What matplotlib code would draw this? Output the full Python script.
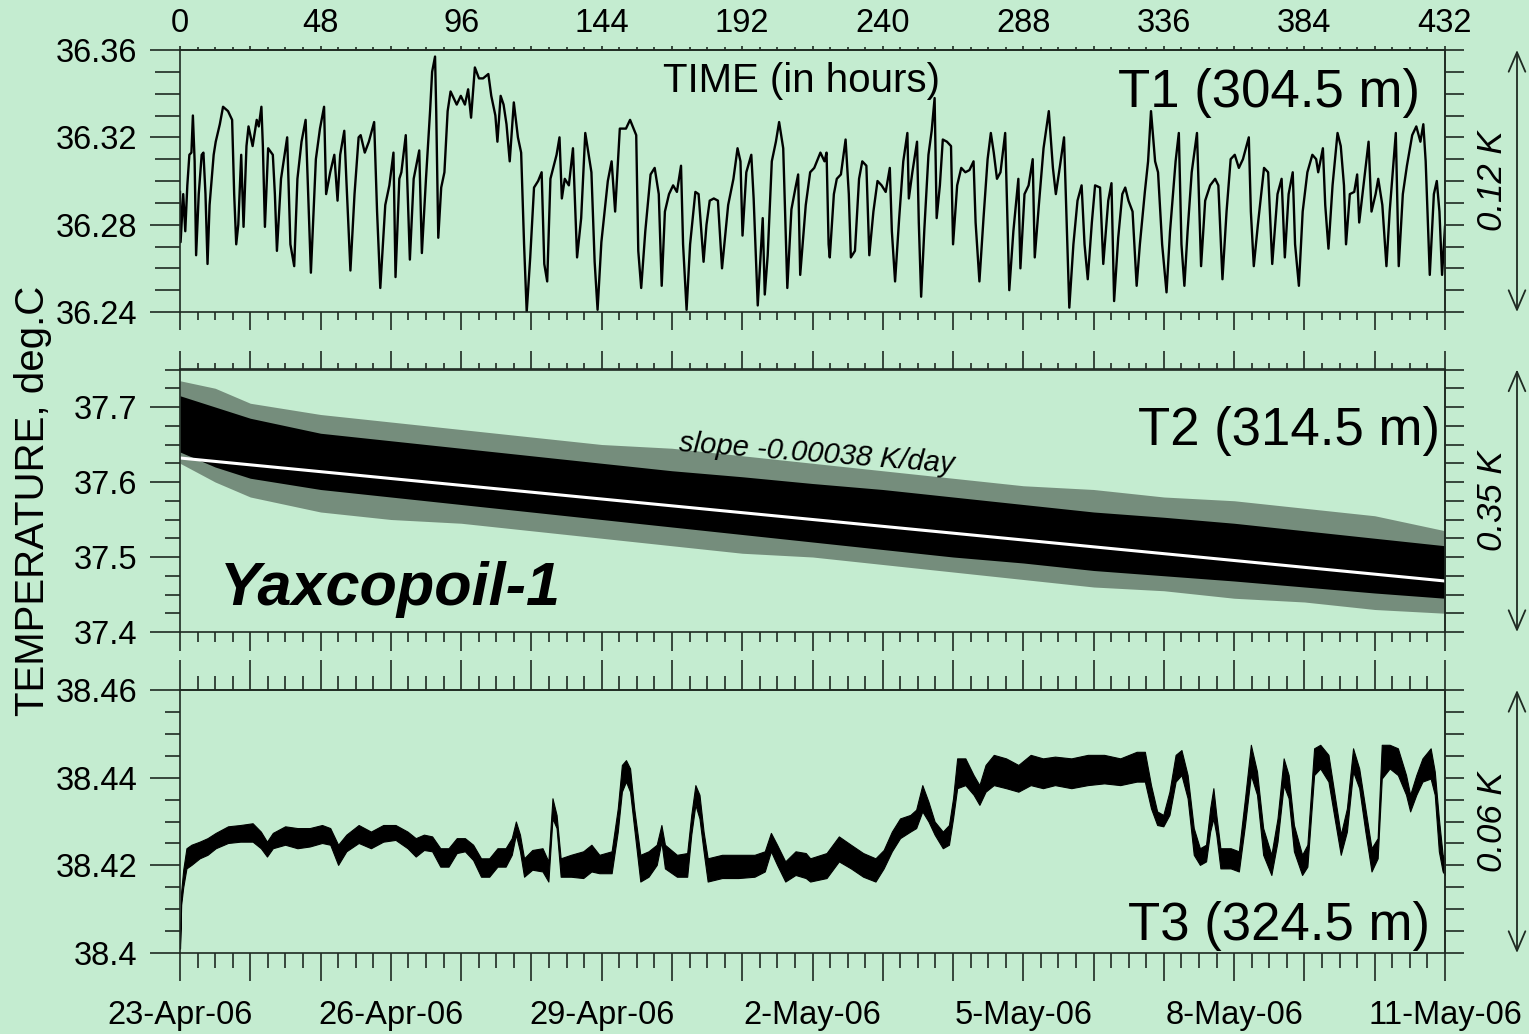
import matplotlib
matplotlib.use('Agg')
import matplotlib.pyplot as plt
from matplotlib.ticker import MultipleLocator, FuncFormatter, NullFormatter

plt.rcParams['font.family'] = ['Liberation Sans', 'DejaVu Sans']

BG = '#c4ecd0'
INK = '#1f2a22'

# ---------------- data ----------------
# T1 (304.5 m): hours since 23-Apr-06 00:00 and temperature, deg.C
t1_hours = [
    0.0, 0.2, 1.1, 1.8, 2.5, 3.2, 3.9, 4.4, 5.0, 5.5,
    6.4, 7.4, 8.0, 8.7, 9.4, 10.1, 11.5, 12.2, 13.6, 14.7,
    16.4, 17.8, 18.5, 19.2, 19.9, 20.9, 21.7, 22.7, 23.4, 24.8,
    26.2, 26.9, 27.8, 28.3, 29.0, 30.1, 31.7, 32.4, 33.1, 34.5,
    36.6, 37.7, 39.0, 40.1, 41.5, 42.9, 43.6, 44.7, 46.4, 47.8,
    49.2, 49.9, 51.3, 52.7, 53.8, 54.7, 56.1, 56.8, 58.2, 59.6,
    61.0, 61.7, 63.1, 64.5, 66.3, 67.3, 68.4, 70.1, 71.5, 72.9,
    73.6, 74.9, 75.6, 77.1, 78.5, 79.8, 81.7, 82.6, 84.0, 85.4,
    86.1, 87.1, 87.5, 88.2, 89.2, 90.3, 91.4, 92.4, 94.5, 95.9,
    97.3, 98.4, 99.4, 100.7, 102.1, 103.5, 105.3, 106.3, 107.7, 108.4,
    109.5, 110.5, 111.5, 112.6, 114.0, 115.4, 116.5, 117.5, 118.4, 119.6,
    120.9, 122.3, 123.5, 124.4, 125.4, 126.5, 128.6, 129.6, 130.4, 131.4,
    132.8, 134.2, 135.6, 137.0, 138.4, 140.5, 141.6, 142.6, 143.9, 146.1,
    147.4, 148.6, 150.2, 152.3, 153.7, 155.8, 156.5, 157.5, 158.9, 160.7,
    162.1, 163.5, 164.5, 165.6, 167.0, 168.4, 169.7, 171.1, 171.8, 173.0,
    174.2, 176.0, 177.1, 178.8, 179.8, 180.9, 182.3, 183.7, 185.1, 187.2,
    189.0, 190.4, 191.4, 192.1, 193.4, 195.1, 195.9, 197.3, 199.0, 199.7,
    200.7, 202.1, 203.5, 204.6, 206.0, 207.4, 208.8, 210.2, 211.1, 211.8,
    213.7,
    215.2, 216.6, 218.7, 220.1, 220.8, 221.5, 221.9, 223.3, 224.3, 225.7,
    227.3, 228.4, 229.1, 230.5, 231.9, 233.0, 234.4, 235.4, 236.8, 238.2,
    239.6, 241.0, 242.4, 243.1, 244.2, 245.6, 247.0, 248.4, 248.9, 250.1,
    251.7, 252.3, 253.1, 254.2, 255.6, 256.7, 257.7, 258.4, 259.5, 260.5,
    261.9, 263.3, 264.0, 265.4, 266.8, 268.2, 269.6, 271.0, 271.7, 273.0,
    274.4, 275.8, 276.9, 277.9, 279.0, 280.2, 281.8, 282.5, 283.2, 284.6,
    286.3, 287.0, 288.4, 289.8, 291.2, 291.9, 293.3, 294.9, 296.7, 298.1,
    299.1, 300.2, 301.9, 302.7, 303.7, 305.1, 306.5, 307.9, 308.9, 310.0,
    311.4, 312.5, 314.2, 315.3, 317.0, 318.1, 319.0, 320.4, 321.8, 322.8,
    323.9, 325.3, 326.7, 327.8, 329.5, 330.6, 331.6, 333.0, 334.0, 335.4,
    336.9, 338.1, 340.0, 341.1, 342.0, 343.0, 344.1, 345.5, 347.3, 348.7,
    350.1, 351.8, 353.5, 354.6, 356.0, 357.4, 358.8, 360.2, 361.6, 363.0,
    365.0, 365.7, 366.7, 368.1, 370.2, 371.6, 373.0, 374.8, 376.2, 377.3,
    378.6, 380.0, 380.8, 382.1, 383.4, 385.0, 386.7, 388.0, 388.7, 390.3,
    391.1, 392.2, 393.6, 395.3, 396.4, 397.5, 398.2, 399.5, 401.0, 402.0,
    402.7, 404.1, 405.9, 406.9, 408.3, 409.2, 410.6, 412.0, 413.1, 415.2,
    416.2, 417.6, 419.0, 420.8, 422.2, 423.6, 424.6, 425.4, 426.8, 428.2,
    429.2, 430.1, 431.0, 432.0,
]
t1_temp = [
    36.295, 36.272, 36.294, 36.277, 36.298, 36.312, 36.313, 36.330, 36.309, 36.266,
    36.294, 36.312, 36.313, 36.294, 36.262, 36.289, 36.312, 36.318, 36.326, 36.334,
    36.332, 36.328, 36.294, 36.271, 36.280, 36.312, 36.279, 36.316, 36.325, 36.316,
    36.328, 36.325, 36.334, 36.316, 36.279, 36.315, 36.312, 36.294, 36.268, 36.301,
    36.320, 36.271, 36.261, 36.301, 36.318, 36.328, 36.301, 36.258, 36.310, 36.324,
    36.334, 36.294, 36.304, 36.312, 36.291, 36.312, 36.323, 36.301, 36.259, 36.294,
    36.320, 36.321, 36.313, 36.318, 36.327, 36.286, 36.251, 36.289, 36.298, 36.313,
    36.256, 36.301, 36.304, 36.321, 36.264, 36.301, 36.314, 36.267, 36.301, 36.332,
    36.350, 36.357, 36.332, 36.274, 36.297, 36.304, 36.332, 36.341, 36.335, 36.339,
    36.335, 36.342, 36.329, 36.352, 36.347, 36.347, 36.349, 36.339, 36.330, 36.318,
    36.339, 36.335, 36.326, 36.309, 36.336, 36.320, 36.313, 36.271, 36.240, 36.265,
    36.297, 36.300, 36.304, 36.262, 36.254, 36.301, 36.312, 36.320, 36.292, 36.301,
    36.298, 36.315, 36.265, 36.283, 36.322, 36.304, 36.263, 36.241, 36.272, 36.300,
    36.309, 36.286, 36.324, 36.324, 36.328, 36.321, 36.268, 36.251, 36.277, 36.303,
    36.306, 36.294, 36.252, 36.286, 36.294, 36.298, 36.295, 36.307, 36.271, 36.241,
    36.271, 36.295, 36.294, 36.263, 36.280, 36.291, 36.292, 36.291, 36.260, 36.289,
    36.301, 36.315, 36.309, 36.275, 36.304, 36.312, 36.292, 36.243, 36.283, 36.248,
    36.266, 36.309, 36.318, 36.327, 36.315, 36.251, 36.287, 36.297, 36.303, 36.257,
    36.289,
    36.304, 36.306, 36.313, 36.309, 36.313, 36.271, 36.265, 36.294, 36.301, 36.303,
    36.319, 36.294, 36.265, 36.268, 36.301, 36.309, 36.307, 36.266, 36.286, 36.300,
    36.298, 36.295, 36.306, 36.277, 36.254, 36.283, 36.309, 36.322, 36.292, 36.304,
    36.318, 36.281, 36.247, 36.278, 36.312, 36.323, 36.338, 36.283, 36.298, 36.319,
    36.318, 36.316, 36.271, 36.298, 36.306, 36.304, 36.305, 36.309, 36.281, 36.254,
    36.283, 36.310, 36.322, 36.313, 36.301, 36.304, 36.322, 36.286, 36.250, 36.277,
    36.301, 36.260, 36.294, 36.298, 36.310, 36.265, 36.289, 36.315, 36.332, 36.306,
    36.294, 36.304, 36.320, 36.286, 36.242, 36.271, 36.291, 36.298, 36.271, 36.255,
    36.281, 36.298, 36.297, 36.262, 36.291, 36.299, 36.245, 36.274, 36.294, 36.297,
    36.291, 36.286, 36.252, 36.271, 36.295, 36.309, 36.332, 36.309, 36.304, 36.271,
    36.249, 36.277, 36.309, 36.322, 36.271, 36.252, 36.277, 36.304, 36.322, 36.261,
    36.291, 36.298, 36.301, 36.298, 36.255, 36.286, 36.310, 36.312, 36.306, 36.310,
    36.320, 36.286, 36.261, 36.280, 36.306, 36.304, 36.262, 36.294, 36.301, 36.265,
    36.294, 36.304, 36.271, 36.252, 36.286, 36.304, 36.312, 36.310, 36.304, 36.315,
    36.289, 36.269, 36.298, 36.322, 36.316, 36.298, 36.271, 36.294, 36.295, 36.303,
    36.281, 36.297, 36.318, 36.286, 36.294, 36.301, 36.289, 36.261, 36.286, 36.322,
    36.261, 36.294, 36.307, 36.321, 36.325, 36.318, 36.326, 36.309, 36.257, 36.294,
    36.300, 36.286, 36.257, 36.279,
]

# T2 (314.5 m): noisy band, dense core and outer spikes envelope
t2_hours = [0, 12, 24, 48, 72, 96, 120, 144, 168, 192, 216, 240, 264, 288, 312, 336, 360, 384, 408, 432]
t2_core_hi = [37.715, 37.700, 37.685, 37.665, 37.655, 37.645, 37.635, 37.625, 37.615, 37.607,
              37.598, 37.590, 37.580, 37.570, 37.560, 37.553, 37.545, 37.535, 37.525, 37.515]
t2_core_lo = [37.640, 37.620, 37.605, 37.590, 37.580, 37.570, 37.560, 37.550, 37.540, 37.530,
              37.520, 37.510, 37.500, 37.492, 37.482, 37.475, 37.468, 37.460, 37.452, 37.445]
t2_outer_hi = [37.735, 37.725, 37.705, 37.690, 37.680, 37.670, 37.660, 37.650, 37.645, 37.635,
               37.625, 37.615, 37.605, 37.595, 37.590, 37.580, 37.575, 37.565, 37.555, 37.535]
t2_outer_lo = [37.625, 37.600, 37.580, 37.560, 37.550, 37.545, 37.535, 37.525, 37.515, 37.505,
               37.500, 37.490, 37.480, 37.470, 37.460, 37.455, 37.445, 37.440, 37.430, 37.425]
trend_hours = [0, 432]
trend_temp = [37.632, 37.468]

# T3 (324.5 m): lower and upper edge of the noisy trace
t3_hours = [
    0.0, 0.4, 1.1, 2.2, 3.9, 6.7, 9.4, 12.2, 16.4, 20.6, 24.8, 27.6, 29.7, 31.7, 35.9,
    40.1, 44.3, 48.5, 51.3, 54.0, 56.8, 61.0, 65.2, 69.4, 73.6, 77.7, 80.5, 83.3, 86.1,
    88.9, 91.7, 94.5, 97.3, 100.1, 102.8, 105.6, 108.4, 111.2, 113.3, 114.7, 116.1, 117.5,
    120.3, 123.8, 125.8, 127.2, 128.6, 130.0, 133.5, 137.7, 140.5, 143.2, 147.4, 149.5,
    150.9, 152.3, 153.7, 155.1, 157.2, 160.0, 162.8, 164.4, 165.6, 169.7, 173.2, 174.6,
    176.0, 177.4, 178.8, 180.2, 185.1, 190.7, 196.2, 199.7, 201.8, 203.9, 206.7, 210.2,
    213.7, 215.2, 220.8, 225.0, 229.1, 233.3, 237.5, 240.3, 243.1, 245.9, 249.4, 251.4,
    253.5, 255.6, 257.7, 260.5, 262.6, 264.0, 265.4, 268.2, 271.0, 273.0, 275.1, 277.9,
    282.1, 286.3, 290.5, 294.7, 298.8, 304.4, 310.0, 315.6, 321.1, 326.7, 329.5, 331.6,
    333.7, 335.8, 337.9, 340.0, 342.0, 344.1, 346.2, 348.3, 350.4, 351.8, 352.9, 353.9,
    355.3, 358.8, 361.6, 363.7, 365.7, 367.8, 369.9, 372.7, 374.8, 376.9, 378.6, 380.4,
    383.2, 385.0, 387.3, 389.4, 392.2, 394.3, 396.4, 398.5, 400.6, 402.7, 404.8, 406.9,
    409.0, 410.4, 413.1, 415.9, 418.7, 420.1, 422.2, 424.3, 427.1, 428.5, 429.9, 431.2, 432.0,
]
t3_high = [
    38.4020, 38.4140, 38.4190, 38.4239, 38.4247, 38.4254, 38.4262, 38.4274, 38.4289, 38.4292,
    38.4296, 38.4277, 38.4254, 38.4274, 38.4289, 38.4285, 38.4285, 38.4292, 38.4285, 38.4247,
    38.4270, 38.4292, 38.4277, 38.4292, 38.4292, 38.4277, 38.4262, 38.4270, 38.4266, 38.4239,
    38.4239, 38.4262, 38.4262, 38.4247, 38.4216, 38.4216, 38.4239, 38.4239, 38.4262, 38.4300,
    38.4270, 38.4216, 38.4235, 38.4239, 38.4209, 38.4353, 38.4315, 38.4216, 38.4224, 38.4232,
    38.4247, 38.4224, 38.4232, 38.4330, 38.4429, 38.4440, 38.4421, 38.4330, 38.4224, 38.4232,
    38.4247, 38.4292, 38.4247, 38.4224, 38.4228, 38.4315, 38.4383, 38.4361, 38.4277, 38.4216,
    38.4224, 38.4224, 38.4224, 38.4232, 38.4274, 38.4247, 38.4209, 38.4232, 38.4228,
    38.4216, 38.4228, 38.4266, 38.4247, 38.4228, 38.4216, 38.4235, 38.4277, 38.4307, 38.4315,
    38.4327, 38.4383, 38.4345, 38.4300, 38.4277, 38.4292, 38.4353, 38.4444, 38.4444, 38.4406,
    38.4383, 38.4429, 38.4452, 38.4444, 38.4429, 38.4452, 38.4444, 38.4448, 38.4444, 38.4452,
    38.4452, 38.4444, 38.4459, 38.4459, 38.4383, 38.4323, 38.4315, 38.4368, 38.4452, 38.4463,
    38.4406, 38.4285, 38.4239, 38.4247, 38.4330, 38.4376, 38.4315, 38.4239, 38.4239, 38.4232,
    38.4353, 38.4475, 38.4414, 38.4285, 38.4224, 38.4307, 38.4444, 38.4406, 38.4292, 38.4224,
    38.4247, 38.4467, 38.4475, 38.4452, 38.4361, 38.4270, 38.4330, 38.4467, 38.4421, 38.4330,
    38.4239, 38.4262, 38.4475, 38.4475, 38.4467, 38.4406, 38.4361, 38.4406, 38.4444, 38.4467,
    38.4414, 38.4307, 38.4224, 38.4216,
]
t3_low = [
    38.4010, 38.4110, 38.4150, 38.4193, 38.4201, 38.4216, 38.4224, 38.4239, 38.4251, 38.4254,
    38.4254, 38.4239, 38.4220, 38.4239, 38.4247, 38.4239, 38.4243, 38.4251, 38.4247, 38.4201,
    38.4232, 38.4251, 38.4239, 38.4254, 38.4258, 38.4239, 38.4220, 38.4235, 38.4232, 38.4197,
    38.4197, 38.4228, 38.4232, 38.4212, 38.4174, 38.4174, 38.4197, 38.4197, 38.4224, 38.4270,
    38.4232, 38.4174, 38.4190, 38.4186, 38.4163, 38.4307, 38.4285, 38.4174, 38.4174, 38.4171,
    38.4186, 38.4182, 38.4182, 38.4277, 38.4368, 38.4391, 38.4368, 38.4285, 38.4163, 38.4174,
    38.4201, 38.4254, 38.4193, 38.4174, 38.4174, 38.4270, 38.4338, 38.4307, 38.4232, 38.4163,
    38.4171, 38.4171, 38.4174, 38.4186, 38.4232, 38.4201, 38.4163, 38.4178, 38.4171,
    38.4163, 38.4171, 38.4209, 38.4193, 38.4174, 38.4163, 38.4193, 38.4232, 38.4262, 38.4277,
    38.4285, 38.4323, 38.4300, 38.4270, 38.4239, 38.4247, 38.4307, 38.4376, 38.4383, 38.4361,
    38.4338, 38.4368, 38.4383, 38.4376, 38.4368, 38.4383, 38.4376, 38.4383, 38.4376, 38.4383,
    38.4387, 38.4383, 38.4391, 38.4391, 38.4330, 38.4292, 38.4289, 38.4315, 38.4391, 38.4406,
    38.4353, 38.4224, 38.4201, 38.4209, 38.4277, 38.4307, 38.4270, 38.4193, 38.4193, 38.4186,
    38.4292, 38.4406, 38.4361, 38.4224, 38.4178, 38.4254, 38.4383, 38.4353, 38.4232, 38.4178,
    38.4197, 38.4406, 38.4421, 38.4391, 38.4307, 38.4224, 38.4277, 38.4414, 38.4376, 38.4277,
    38.4186, 38.4216, 38.4398, 38.4421, 38.4406, 38.4361, 38.4323, 38.4361, 38.4391, 38.4398,
    38.4361, 38.4232, 38.4186, 38.4178,
]

hour_labels = [0, 48, 96, 144, 192, 240, 288, 336, 384, 432]
date_hours = [0, 72, 144, 216, 288, 360, 432]
date_labels = ['23-Apr-06', '26-Apr-06', '29-Apr-06', '2-May-06', '5-May-06', '8-May-06', '11-May-06']

# ---------------- figure ----------------
fig = plt.figure(figsize=(15.29, 10.34), dpi=100, facecolor=BG)
L, W = 180 / 1529, 1265 / 1529
ax1 = fig.add_axes([L, 1 - 312 / 1034, W, 262 / 1034])
ax2 = fig.add_axes([L, 1 - 632 / 1034, W, 262.5 / 1034])
ax3 = fig.add_axes([L, 1 - 953 / 1034, W, 263 / 1034])

panels = [
    # ax, ylim, major, minor, top (maj, min), bottom (maj, min), left minor len
    (ax1, (36.24, 36.36), 0.04, 0.01, (3, 2), (13, 6), 18),
    (ax2, (37.4, 37.75), 0.1, 0.025, (13, 4.5), (13.5, 7), 11),
    (ax3, (38.40, 38.46), 0.02, 0.005, (21.5, 10), (20.5, 11), 11),
]

tick_fmt = FuncFormatter(lambda v, p: f'{round(v, 2):g}')

for ax, ylim, ymaj, ymin, top_len, bot_len, lmin in panels:
    ax.set_facecolor(BG)
    ax.set_xlim(0, 432)
    ax.set_ylim(*ylim)
    for s in ax.spines.values():
        s.set_linewidth(1.2)
        s.set_color(INK)

    # bottom ticks
    ax.xaxis.set_major_locator(MultipleLocator(24))
    ax.xaxis.set_minor_locator(MultipleLocator(6))
    ax.tick_params(axis='x', which='major', direction='out', length=bot_len[0], width=1.2,
                   color=INK, top=False, labelbottom=False)
    ax.tick_params(axis='x', which='minor', direction='out', length=bot_len[1], width=1.2,
                   color=INK, top=False)

    # left ticks
    ax.yaxis.set_major_locator(MultipleLocator(ymaj))
    ax.yaxis.set_minor_locator(MultipleLocator(ymin))
    ax.yaxis.set_major_formatter(tick_fmt)
    ax.tick_params(axis='y', which='major', direction='out', length=21.5, width=1.2,
                   color=INK, right=False, labelsize=23.5, pad=9)
    ax.tick_params(axis='y', which='minor', direction='out', length=lmin, width=1.2,
                   color=INK, right=False)

    # top ticks
    top = ax.secondary_xaxis('top')
    top.xaxis.set_major_locator(MultipleLocator(24))
    top.xaxis.set_minor_locator(MultipleLocator(6))
    top.tick_params(axis='x', which='major', direction='out', length=top_len[0], width=1.2, color=INK)
    top.tick_params(axis='x', which='minor', direction='out', length=top_len[1], width=1.2, color=INK)
    for s in top.spines.values():
        s.set_linewidth(1.2)
        s.set_color(INK)
    if ax is ax1:
        top.xaxis.set_major_formatter(
            FuncFormatter(lambda v, p: f'{int(round(v))}' if round(v) in hour_labels else ''))
        top.tick_params(axis='x', labelsize=23.5, pad=5)
    else:
        top.xaxis.set_major_formatter(NullFormatter())

    # right ticks
    right = ax.secondary_yaxis('right')
    right.yaxis.set_major_locator(MultipleLocator(ymin))
    right.yaxis.set_major_formatter(NullFormatter())
    right.tick_params(axis='y', which='major', direction='out', length=13.5, width=1.2, color=INK)
    for s in right.spines.values():
        s.set_linewidth(1.2)
        s.set_color(INK)

# date labels under the bottom panel
ax3.xaxis.set_major_formatter(
    FuncFormatter(lambda v, p: date_labels[date_hours.index(int(round(v)))]
                  if int(round(v)) in date_hours else ''))
ax3.tick_params(axis='x', which='major', labelbottom=True, labelsize=23.5, pad=13)

# ---------------- series ----------------
ax1.plot(t1_hours, t1_temp, color='black', lw=1.7)

ax2.fill_between(t2_hours, t2_outer_lo, t2_outer_hi, color='black', alpha=0.4, lw=0)
ax2.fill_between(t2_hours, t2_core_lo, t2_core_hi, color='black', lw=0)
ax2.plot(trend_hours, trend_temp, color='white', lw=2.2)

ax3.fill_between(t3_hours, t3_low, t3_high, color='black', edgecolor='black', lw=0.8)

# ---------------- annotations ----------------
ax1.text(0.491, 0.84, 'TIME (in hours)', transform=ax1.transAxes, fontsize=29,
         ha='center', va='baseline')
ax1.text(0.980, 0.782, 'T1 (304.5 m)', transform=ax1.transAxes, fontsize=38,
         ha='right', va='baseline')
ax2.text(0.996, 0.712, 'T2 (314.5 m)', transform=ax2.transAxes, fontsize=38,
         ha='right', va='baseline')
ax3.text(0.988, 0.049, 'T3 (324.5 m)', transform=ax3.transAxes, fontsize=38,
         ha='right', va='baseline')
ax2.text(0.0316, 0.103, 'Yaxcopoil-1', transform=ax2.transAxes, fontsize=44,
         weight='bold', style='italic', ha='left', va='baseline')
ax2.text(0.503, 0.68, 'slope -0.00038 K/day', transform=ax2.transAxes, fontsize=21,
         style='italic', rotation=-4.5, rotation_mode='anchor', ha='center', va='center')

fig.text(0.0216, 0.516, 'TEMPERATURE, deg.C', rotation=90, fontsize=29,
         ha='center', va='center')

arrow_x = (1517 - 180) / 1265
for ax, lab in [(ax1, '0.12 K'), (ax2, '0.35 K'), (ax3, '0.06 K')]:
    ax.annotate('', xy=(arrow_x, 0.0), xytext=(arrow_x, 1.0), xycoords='axes fraction',
                textcoords='axes fraction', annotation_clip=False,
                arrowprops=dict(arrowstyle='<->,head_length=0.7,head_width=0.3',
                                lw=1.3, color=INK, shrinkA=0, shrinkB=0, mutation_scale=20))
    ax.text((1493 - 180) / 1265, 0.5, lab, transform=ax.transAxes, rotation=90,
            fontsize=25, style='italic', ha='center', va='center')

fig.savefig('out.png', dpi=100, facecolor=BG)
